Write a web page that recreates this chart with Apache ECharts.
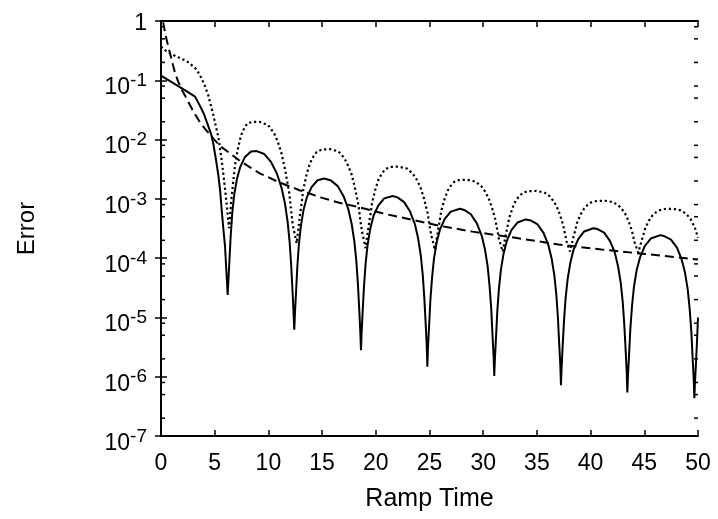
<!DOCTYPE html>
<html>
<head>
<meta charset="utf-8">
<script src="https://cdn.jsdelivr.net/npm/echarts@6/dist/echarts.min.js"></script>
<style>
  html, body { margin: 0; padding: 0; background: #fff; }
  #chart { width: 718px; height: 519px; }
</style>
</head>
<body>
<div id="chart"></div>
<script>
// Ramp time axis and error decades
const rampTicks = [0, 5, 10, 15, 20, 25, 30, 35, 40, 45, 50];
const errorDecades = [1e-7, 1e-6, 1e-5, 1e-4, 1e-3, 1e-2, 1e-1, 1];
// intermediate ticks inside each decade (2, 5 and 8 times the decade)
const minorTickValues = [
  2e-7, 5e-7, 8e-7, 2e-6, 5e-6, 8e-6, 2e-5, 5e-5, 8e-5,
  2e-4, 5e-4, 8e-4, 2e-3, 5e-3, 8e-3, 2e-2, 5e-2, 8e-2,
  2e-1, 5e-1, 8e-1
];

// solid curve: [ramp time, error]
const solidErr = [
  [0, 0.12], [0.8, 0.098], [1.6, 0.08], [2.4, 0.065], [3.17, 0.053], [3.63, 0.037],
  [4.0, 0.027], [4.3, 0.019], [4.66, 0.0125], [4.87, 0.0085], [5.1, 0.0048], [5.34, 0.0025],
  [5.5, 0.0014], [5.65, 6.5e-4], [5.8, 3.2e-4], [5.96, 1.6e-4], [6.11, 5.0e-5], [6.21, 2.4e-5],
  [6.27, 4.1e-5], [6.37, 9.0e-5], [6.49, 2.4e-4], [6.64, 5.9e-4], [6.83, 1.22e-3], [7.08, 2.2e-3],
  [7.39, 3.5e-3], [7.82, 5.1e-3], [8.38, 6.3e-3], [8.91, 6.4e-3],
  [9.62, 5.7e-3], [10.24, 4.2e-3], [10.8, 2.65e-3], [11.23, 1.52e-3], [11.54, 8.4e-4], [11.79, 4.1e-4],
  [11.98, 1.85e-4], [12.13, 7.1e-5], [12.26, 2.5e-5], [12.35, 1.1e-5], [12.41, 6.2e-6],
  [12.47, 1.17e-5], [12.57, 2.56e-5], [12.69, 7.0e-5], [12.84, 1.72e-4], [13.03, 3.56e-4], [13.28, 6.6e-4],
  [13.59, 1.07e-3], [14.02, 1.58e-3], [14.58, 2.06e-3], [15.2, 2.2e-3],
  [15.83, 2.04e-3], [16.45, 1.64e-3], [17.01, 1.1e-3], [17.44, 6.7e-4], [17.75, 3.8e-4], [18.0, 1.94e-4],
  [18.19, 8.9e-5], [18.34, 3.5e-5], [18.47, 1.24e-5], [18.56, 5.6e-6], [18.62, 2.8e-6],
  [18.68, 5.5e-6], [18.77, 1.2e-5], [18.9, 3.3e-5], [19.05, 8.1e-5], [19.24, 1.69e-4], [19.49, 3.15e-4],
  [19.79, 5.2e-4], [20.23, 7.7e-4], [20.78, 1.02e-3], [21.57, 1.12e-3],
  [22.02, 1.06e-3], [22.64, 8.8e-4], [23.19, 6.1e-4], [23.63, 3.8e-4], [23.93, 2.2e-4], [24.18, 1.14e-4],
  [24.37, 5.3e-5], [24.52, 2.1e-5], [24.65, 7.5e-6], [24.74, 3.4e-6], [24.8, 1.48e-6],
  [24.86, 3.2e-6], [24.96, 7.0e-6], [25.08, 1.93e-5], [25.24, 4.75e-5], [25.42, 9.9e-5], [25.67, 1.85e-4],
  [25.98, 3.06e-4], [26.42, 4.6e-4], [26.98, 6.1e-4], [27.84, 6.8e-4],
  [28.23, 6.5e-4], [28.85, 5.5e-4], [29.41, 3.86e-4], [29.85, 2.43e-4], [30.16, 1.42e-4], [30.41, 7.4e-5],
  [30.59, 3.45e-5], [30.75, 1.38e-5], [30.87, 4.9e-6], [30.97, 2.2e-6], [31.03, 1.03e-6],
  [31.09, 2.0e-6], [31.19, 4.5e-6], [31.31, 1.24e-5], [31.46, 3.0e-5], [31.65, 6.4e-5], [31.9, 1.2e-4],
  [32.21, 1.98e-4], [32.64, 3.0e-4], [33.2, 4.0e-4], [33.95, 4.5e-4],
  [34.45, 4.3e-4], [35.07, 3.7e-4], [35.63, 2.64e-4], [36.06, 1.68e-4], [36.37, 9.9e-5], [36.62, 5.2e-5],
  [36.81, 2.43e-5], [36.96, 9.7e-6], [37.08, 3.5e-6], [37.18, 1.58e-6], [37.24, 7.2e-7],
  [37.3, 1.4e-6], [37.39, 3.1e-6], [37.52, 8.5e-6], [37.67, 2.1e-5], [37.86, 4.4e-5], [38.11, 8.3e-5],
  [38.41, 1.38e-4], [38.85, 2.09e-4], [39.4, 2.82e-4], [40.25, 3.2e-4],
  [40.64, 3.09e-4], [41.26, 2.69e-4], [41.81, 1.94e-4], [42.25, 1.25e-4], [42.55, 7.4e-5], [42.8, 3.9e-5],
  [42.99, 1.84e-5], [43.14, 7.4e-6], [43.27, 2.65e-6], [43.36, 1.2e-6], [43.42, 5.4e-7],
  [43.48, 1.06e-6], [43.58, 2.3e-6], [43.7, 6.4e-6], [43.86, 1.59e-5], [44.04, 3.34e-5], [44.29, 6.3e-5],
  [44.61, 1.04e-4], [45.04, 1.59e-4], [45.6, 2.14e-4], [46.5, 2.44e-4],
  [46.85, 2.36e-4], [47.48, 2.06e-4], [48.04, 1.5e-4], [48.47, 9.6e-5], [48.79, 5.7e-5], [49.04, 3.0e-5],
  [49.22, 1.42e-5], [49.38, 5.7e-6], [49.5, 2.06e-6], [49.6, 9.3e-7], [49.66, 4.35e-7],
  [49.72, 8.3e-7], [49.82, 1.8e-6], [49.92, 4.5e-6], [50, 1.0e-5]
];

// dotted curve: [ramp time, error]
const dottedErr = [
  [0, 0.37], [0.5, 0.31], [1.0, 0.275], [1.6, 0.245], [2.4, 0.21], [3.2, 0.16], [3.6, 0.125],
  [4.0, 0.088], [4.4, 0.056], [4.87, 0.026], [5.34, 0.011], [5.65, 4.5e-3], [5.96, 1.5e-3],
  [6.17, 6.5e-4], [6.33, 3.2e-4],
  [6.5, 7.3e-4], [6.61, 1.24e-3], [6.75, 2.13e-3], [6.9, 3.8e-3], [7.18, 7.3e-3], [7.46, 0.0119],
  [7.75, 0.0155], [8.03, 0.0187], [8.48, 0.0198], [9.16, 0.02], [9.99, 0.0174], [10.55, 0.0126],
  [10.9, 8.9e-3], [11.24, 5.7e-3], [11.59, 2.9e-3], [11.94, 1.26e-3], [12.11, 6.5e-4], [12.28, 3.5e-4],
  [12.42, 2.7e-4], [12.63, 1.78e-4],
  [12.82, 3.46e-4], [12.94, 5.3e-4], [13.1, 8.6e-4], [13.25, 1.43e-3], [13.56, 2.6e-3], [13.87, 4.0e-3],
  [14.19, 5.2e-3], [14.5, 6.2e-3], [14.99, 6.8e-3], [15.74, 6.9e-3], [16.53, 6.3e-3], [17.06, 4.9e-3],
  [17.4, 3.7e-3], [17.73, 2.64e-3], [18.06, 1.53e-3], [18.39, 7.8e-4], [18.55, 4.5e-4], [18.72, 2.75e-4],
  [18.85, 2.16e-4], [19.05, 1.47e-4],
  [19.23, 2.57e-4], [19.36, 3.7e-4], [19.51, 5.6e-4], [19.66, 8.7e-4], [19.97, 1.47e-3], [20.27, 2.15e-3],
  [20.58, 2.7e-3], [20.88, 3.16e-3], [21.37, 3.46e-3], [22.1, 3.5e-3], [22.92, 3.24e-3], [23.46, 2.64e-3],
  [23.81, 2.11e-3], [24.15, 1.58e-3], [24.49, 1.01e-3], [24.83, 5.7e-4], [25.0, 3.6e-4], [25.17, 2.4e-4],
  [25.31, 1.92e-4], [25.51, 1.37e-4],
  [25.69, 2.22e-4], [25.81, 3.0e-4], [25.95, 4.3e-4], [26.1, 6.3e-4], [26.4, 9.9e-4], [26.69, 1.37e-3],
  [26.99, 1.67e-3], [27.28, 1.92e-3], [27.75, 2.07e-3], [28.46, 2.1e-3], [29.26, 1.96e-3], [29.8, 1.65e-3],
  [30.14, 1.36e-3], [30.47, 1.06e-3], [30.81, 7.2e-4], [31.14, 4.4e-4], [31.31, 3.0e-4], [31.47, 2.08e-4],
  [31.61, 1.73e-4], [31.81, 1.29e-4],
  [32.0, 1.96e-4], [32.12, 2.56e-4], [32.28, 3.5e-4], [32.43, 4.8e-4], [32.74, 7.1e-4], [33.05, 9.5e-4],
  [33.37, 1.12e-3], [33.68, 1.26e-3], [34.17, 1.35e-3], [34.92, 1.36e-3], [35.68, 1.29e-3], [36.18, 1.11e-3],
  [36.5, 9.4e-4], [36.82, 7.6e-4], [37.13, 5.5e-4], [37.45, 3.6e-4], [37.61, 2.6e-4], [37.76, 1.92e-4],
  [37.89, 1.64e-4], [38.08, 1.29e-4],
  [38.28, 1.83e-4], [38.41, 2.29e-4], [38.57, 2.96e-4], [38.73, 3.9e-4], [39.06, 5.4e-4], [39.38, 6.8e-4],
  [39.71, 7.9e-4], [40.04, 8.7e-4], [40.56, 9.2e-4], [41.34, 9.3e-4], [42.08, 8.85e-4], [42.58, 7.8e-4],
  [42.89, 6.8e-4], [43.2, 5.7e-4], [43.51, 4.3e-4], [43.82, 3.0e-4], [43.98, 2.28e-4], [44.13, 1.75e-4],
  [44.25, 1.53e-4], [44.44, 1.24e-4],
  [44.64, 1.67e-4], [44.77, 2.03e-4], [44.93, 2.53e-4], [45.09, 3.2e-4], [45.42, 4.26e-4], [45.74, 5.2e-4],
  [46.07, 5.9e-4], [46.4, 6.4e-4], [46.92, 6.75e-4], [47.7, 6.8e-4], [48.4, 6.4e-4], [48.9, 5.6e-4],
  [49.3, 4.6e-4], [49.7, 3.3e-4], [50, 2.2e-4]
];

// dashed curve: [ramp time, error]
const dashedErr = [
  [0.2, 0.95], [0.35, 0.68], [0.5, 0.5], [0.7, 0.36], [0.9, 0.26], [1.1, 0.185], [1.3, 0.135],
  [1.6, 0.095], [2.0, 0.066], [2.5, 0.045], [3.0, 0.03], [3.6, 0.02], [4.1, 0.0152], [5.0, 0.0098],
  [5.5, 0.0078], [6.5, 0.0057], [7.4, 0.0043], [8.3, 0.0034], [9.2, 0.0027], [11, 0.0019],
  [12.9, 0.0014], [15, 0.00104], [16.7, 0.00085], [18.2, 0.00074], [21, 0.00055], [24, 0.00042],
  [26, 0.00035], [29, 0.00028], [33, 0.00022], [37, 0.00017], [41, 0.00014], [45, 0.000118],
  [50, 0.000095]
];

const FONT = '"Liberation Sans", Arial, Helvetica, sans-serif';
const INK = '#000';

// decade labels: "1" for the top decade, 10 with a raised exponent for the others
function decadeLabel(v) {
  const e = Math.round(Math.log10(v));
  return e === 0 ? '{one|1}' : '{b|10}{s|' + e + '}';
}

const decadeRich = {
  one: { fontFamily: FONT, fontSize: 23, color: INK, verticalAlign: 'bottom', padding: [0, 0, 5, 0] },
  b: { fontFamily: FONT, fontSize: 23, color: INK, verticalAlign: 'bottom' },
  s: { fontFamily: FONT, fontSize: 19, color: INK, verticalAlign: 'bottom', padding: [0, 0, 9, 0] }
};

const chart = echarts.init(document.getElementById('chart'), null, { renderer: 'canvas' });

const xBase = {
  type: 'value',
  min: rampTicks[0],
  max: rampTicks[rampTicks.length - 1],
  interval: rampTicks[1] - rampTicks[0],
  splitLine: { show: false },
  axisLine: { show: true, lineStyle: { color: INK, width: 2 } },
  axisTick: { show: true, inside: true, length: 6, lineStyle: { color: INK, width: 1.5 } }
};

const yBase = {
  type: 'log',
  logBase: 10,
  min: errorDecades[0],
  max: errorDecades[errorDecades.length - 1],
  splitNumber: errorDecades.length - 1,
  splitLine: { show: false },
  axisLine: { show: true, lineStyle: { color: INK, width: 2 } },
  axisTick: { show: true, inside: true, length: 6, lineStyle: { color: INK, width: 1.5 } }
};

chart.setOption({
  animation: false,
  backgroundColor: '#fff',
  grid: { left: 161, right: 20, top: 21, bottom: 83, containLabel: false },
  xAxis: [
    Object.assign({}, xBase, {
      position: 'bottom',
      name: 'Ramp Time',
      nameLocation: 'middle',
      nameGap: 51,
      nameTextStyle: { fontFamily: FONT, fontSize: 25, color: INK },
      axisLabel: { show: true, margin: 16, fontFamily: FONT, fontSize: 23, color: INK }
    }),
    Object.assign({}, xBase, {
      position: 'top',
      axisLabel: { show: false }
    })
  ],
  yAxis: [
    Object.assign({}, yBase, {
      position: 'left',
      name: 'Error',
      nameLocation: 'middle',
      nameGap: 122,
      nameRotate: 90,
      nameTextStyle: { fontFamily: FONT, fontSize: 24, color: INK },
      axisLabel: { show: true, margin: 14, padding: [10, 0, 0, 0], formatter: decadeLabel, rich: decadeRich }
    }),
    Object.assign({}, yBase, {
      position: 'right',
      axisLabel: { show: false }
    })
  ],
  series: [
    {
      name: 'minor ticks',
      type: 'custom',
      silent: true,
      clip: false,
      xAxisIndex: 0,
      yAxisIndex: 0,
      encode: { x: 0, y: 1 },
      data: minorTickValues.map(v => [0, v]),
      renderItem: function (params, api) {
        const cs = params.coordSys;
        const y = api.coord([0, api.value(1)])[1];
        const len = 4;
        const st = { stroke: INK, lineWidth: 1.5 };
        return {
          type: 'group',
          children: [
            { type: 'line', shape: { x1: cs.x, y1: y, x2: cs.x + len, y2: y }, style: st },
            { type: 'line', shape: { x1: cs.x + cs.width, y1: y, x2: cs.x + cs.width - len, y2: y }, style: st }
          ]
        };
      }
    },
    {
      name: 'dashed',
      type: 'line',
      data: dashedErr,
      showSymbol: false,
      symbol: 'none',
      clip: true,
      lineStyle: { color: INK, width: 2, type: [9, 5] }
    },
    {
      name: 'dotted',
      type: 'line',
      data: dottedErr,
      showSymbol: false,
      symbol: 'none',
      clip: true,
      lineStyle: { color: INK, width: 2.2, type: [2.2, 2.8] }
    },
    {
      name: 'solid',
      type: 'line',
      data: solidErr,
      showSymbol: false,
      symbol: 'none',
      clip: true,
      lineStyle: { color: INK, width: 2 }
    }
  ]
});
</script>
</body>
</html>
